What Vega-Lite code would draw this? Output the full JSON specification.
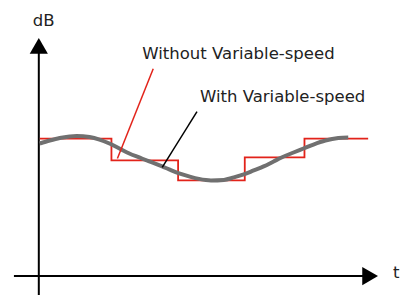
{
  "$schema": "https://vega.github.io/schema/vega-lite/v6.json",
  "width": 400,
  "height": 296,
  "autosize": {"type": "fit", "contains": "padding"},
  "padding": 0,
  "background": "white",
  "config": {"view": {"stroke": null}},
  "datasets": {
    "fixed": [
      {"t": 40, "dB": 157},
      {"t": 112, "dB": 135},
      {"t": 179, "dB": 115},
      {"t": 246, "dB": 138},
      {"t": 306, "dB": 157},
      {"t": 370, "dB": 157}
    ],
    "variable": [
      {"t": 40, "dB": 152}, {"t": 50, "dB": 155}, {"t": 60, "dB": 157.5}, {"t": 70, "dB": 159},
      {"t": 77, "dB": 159.5}, {"t": 90, "dB": 158.5}, {"t": 100, "dB": 156}, {"t": 110, "dB": 152},
      {"t": 120, "dB": 147}, {"t": 130, "dB": 142}, {"t": 140, "dB": 138}, {"t": 150, "dB": 134},
      {"t": 163, "dB": 129}, {"t": 170, "dB": 126}, {"t": 180, "dB": 122}, {"t": 190, "dB": 119},
      {"t": 200, "dB": 116.5}, {"t": 212, "dB": 115}, {"t": 225, "dB": 115.5}, {"t": 235, "dB": 118},
      {"t": 245, "dB": 121}, {"t": 255, "dB": 125}, {"t": 265, "dB": 129}, {"t": 275, "dB": 134},
      {"t": 283, "dB": 138}, {"t": 295, "dB": 143}, {"t": 305, "dB": 147}, {"t": 315, "dB": 151},
      {"t": 327, "dB": 155}, {"t": 340, "dB": 157.5}, {"t": 350, "dB": 158}
    ],
    "axes": [
      {"t": 39, "dB": 0, "t2": 39, "dB2": 250},
      {"t": 14, "dB": 19, "t2": 372, "dB2": 19}
    ],
    "arrowUp": [{"t": 39, "dB": 250}],
    "arrowRight": [{"t": 372, "dB": 19}],
    "redLeader": [{"t": 154, "dB": 227, "t2": 118, "dB2": 137}],
    "blackLeader": [{"t": 198, "dB": 184, "t2": 163, "dB2": 128}],
    "labels": [
      {"t": 143, "dB": 237, "label": "Without Variable-speed"},
      {"t": 201, "dB": 194, "label": "With Variable-speed"},
      {"t": 33, "dB": 270, "label": "dB"},
      {"t": 395, "dB": 17, "label": "t"}
    ]
  },
  "layer": [
    {
      "data": {"name": "axes"},
      "mark": {"type": "rule", "color": "black", "strokeWidth": 2},
      "encoding": {
        "x": {"field": "t", "type": "quantitative", "axis": null, "scale": {"domain": [0, 400], "nice": false, "zero": false}},
        "y": {"field": "dB", "type": "quantitative", "axis": null, "scale": {"domain": [0, 296], "nice": false, "zero": false}},
        "x2": {"field": "t2"},
        "y2": {"field": "dB2"}
      }
    },
    {
      "data": {"name": "arrowUp"},
      "mark": {"type": "point", "shape": "triangle-up", "filled": true, "color": "black", "size": 330, "opacity": 1},
      "encoding": {
        "x": {"field": "t", "type": "quantitative", "axis": null},
        "y": {"field": "dB", "type": "quantitative", "axis": null}
      }
    },
    {
      "data": {"name": "arrowRight"},
      "mark": {"type": "point", "shape": "triangle-right", "filled": true, "color": "black", "size": 330, "opacity": 1},
      "encoding": {
        "x": {"field": "t", "type": "quantitative", "axis": null},
        "y": {"field": "dB", "type": "quantitative", "axis": null}
      }
    },
    {
      "data": {"name": "fixed"},
      "mark": {"type": "line", "interpolate": "step-after", "color": "#e2231a", "strokeWidth": 1.8},
      "encoding": {
        "x": {"field": "t", "type": "quantitative", "axis": null},
        "y": {"field": "dB", "type": "quantitative", "axis": null}
      }
    },
    {
      "data": {"name": "variable"},
      "mark": {"type": "line", "interpolate": "monotone", "color": "#707070", "strokeWidth": 4, "strokeCap": "butt"},
      "encoding": {
        "x": {"field": "t", "type": "quantitative", "axis": null},
        "y": {"field": "dB", "type": "quantitative", "axis": null}
      }
    },
    {
      "data": {"name": "redLeader"},
      "mark": {"type": "rule", "color": "#e2231a", "strokeWidth": 1.5},
      "encoding": {
        "x": {"field": "t", "type": "quantitative", "axis": null},
        "y": {"field": "dB", "type": "quantitative", "axis": null},
        "x2": {"field": "t2"},
        "y2": {"field": "dB2"}
      }
    },
    {
      "data": {"name": "blackLeader"},
      "mark": {"type": "rule", "color": "black", "strokeWidth": 1.5},
      "encoding": {
        "x": {"field": "t", "type": "quantitative", "axis": null},
        "y": {"field": "dB", "type": "quantitative", "axis": null},
        "x2": {"field": "t2"},
        "y2": {"field": "dB2"}
      }
    },
    {
      "data": {"name": "labels"},
      "mark": {"type": "text", "align": "left", "baseline": "alphabetic", "font": "DejaVu Sans", "fontSize": 16.5, "color": "#222222"},
      "encoding": {
        "x": {"field": "t", "type": "quantitative", "axis": null},
        "y": {"field": "dB", "type": "quantitative", "axis": null},
        "text": {"field": "label"}
      }
    }
  ]
}
